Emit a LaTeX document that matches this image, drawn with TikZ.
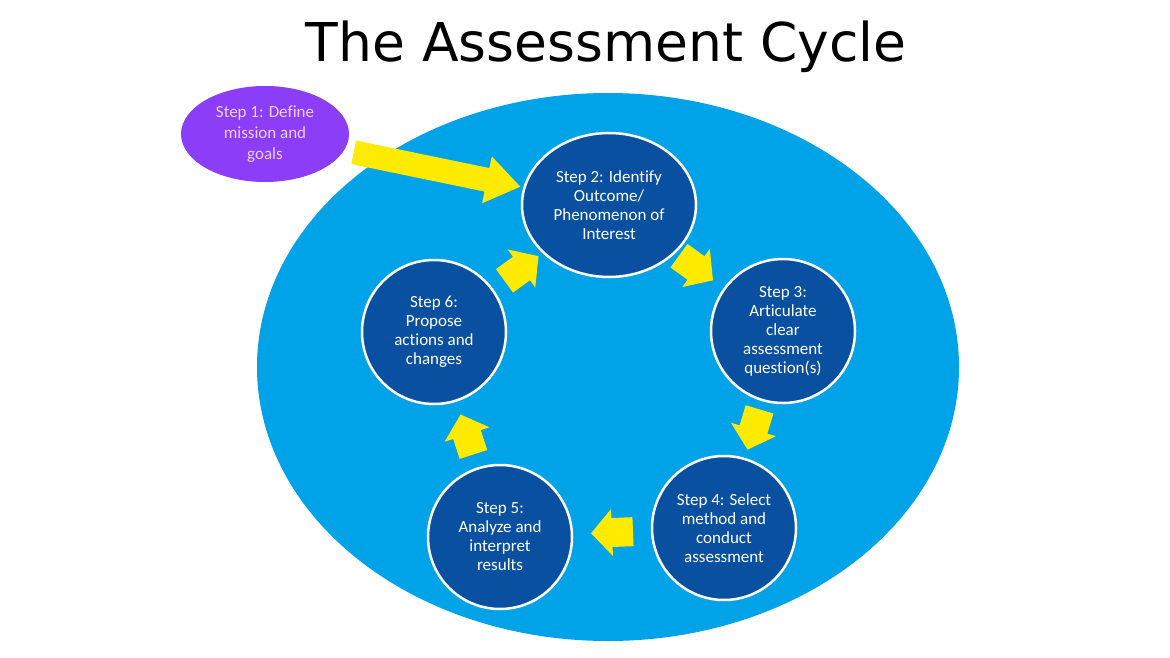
\documentclass[tikz,border=0pt]{standalone}
\usepackage{fontspec}
\setmainfont{Carlito}[Ligatures=NoCommon]
\newfontfamily\titlefont{DejaVu Sans}
\usetikzlibrary{calc,shapes.geometric}
\definecolor{lightblue}{RGB}{0,162,232}
\definecolor{darkblue}{RGB}{10,80,160}
\definecolor{arrowyellow}{RGB}{255,235,0}
\definecolor{stepone}{RGB}{139,61,247}
\definecolor{steponetext}{RGB}{236,208,255}
\tikzset{
  stepcircle/.style={circle, fill=darkblue, draw=white, line width=2.5pt,
    minimum size=144pt, inner sep=0pt, text=white, align=center,
    font=\fontsize{17}{19}\selectfont},
  yarrow/.pic={\fill[arrowyellow] (-21,-14.5) -- (0,-14.5) -- (0,-23.5) -- (21,0) -- (0,23.5) -- (0,14.5) -- (-21,14.5) -- cycle;},
  bigarrow/.pic={\fill[arrowyellow] (-85,-12) -- (51,-12) -- (51,-24) -- (85,0) -- (51,24) -- (51,12) -- (-85,12) -- cycle;}
}
\newcommand{\cyclearrow}[3]{%
  \path let \p1=(#1.center), \p2=(#2.center), \n1={atan2(\y2-\y1,\x2-\x1)} in
    ($(#1.center)!0.5!(#2.center)$) pic[rotate=\n1] {#3};}
\begin{document}
\begin{tikzpicture}[x=1pt,y=-1pt]
\useasboundingbox[fill=white] (0,0) rectangle (1170,658);
\node[anchor=base, font=\titlefont\fontsize{53.5}{60}\selectfont] (title) at (606,62) {The Assessment Cycle};
\node[ellipse, fill=lightblue, minimum width=702pt, minimum height=548pt, inner sep=0pt] (bg) at (608,367) {};
\node[ellipse, fill=stepone, minimum width=168pt, minimum height=96pt, inner sep=0pt,
  text=steponetext, align=center, font=\fontsize{17}{21}\selectfont] (s1) at (265,134)
  {Step 1: Define\\mission and\\goals};
\node[stepcircle, ellipse, minimum width=174pt, minimum height=144pt] (s2) at (609,205)
  {Step 2: Identify\\Outcome/\\Phenomenon of\\Interest};
\node[stepcircle] (s3) at (783,331) {Step 3:\\Articulate\\clear\\assessment\\question(s)};
\node[stepcircle] (s4) at (724,528) {Step 4: Select\\method and\\conduct\\assessment};
\node[stepcircle] (s5) at (500,537) {Step 5:\\Analyze and\\interpret\\results};
\node[stepcircle] (s6) at (434,332) {Step 6:\\Propose\\actions and\\changes};
\cyclearrow{s1}{s2}{bigarrow}
\cyclearrow{s2}{s3}{yarrow}
\cyclearrow{s3}{s4}{yarrow}
\cyclearrow{s4}{s5}{yarrow}
\cyclearrow{s5}{s6}{yarrow}
\cyclearrow{s6}{s2}{yarrow}
\end{tikzpicture}
\end{document}
